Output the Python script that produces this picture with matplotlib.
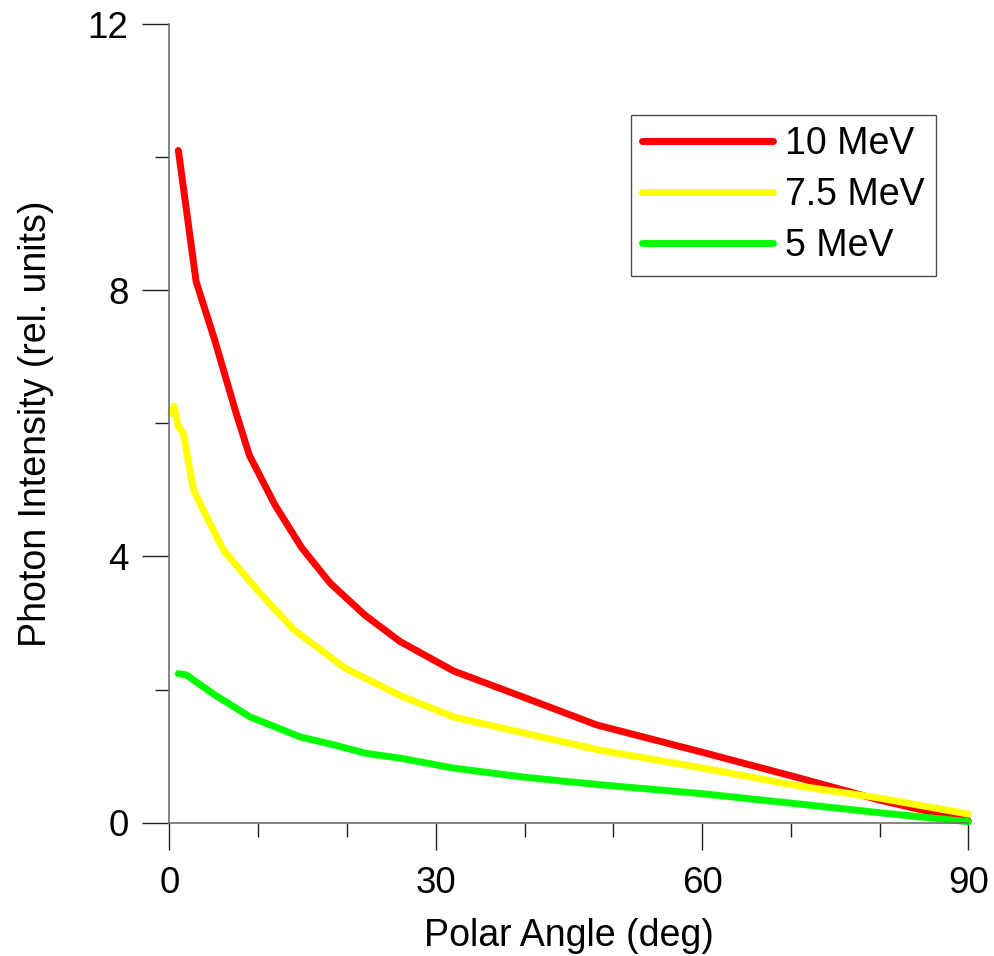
import matplotlib
matplotlib.use("Agg")
import matplotlib.pyplot as plt
from matplotlib.ticker import MultipleLocator

plt.rcParams['font.family'] = ['Liberation Sans', 'DejaVu Sans']

# Data
angle_10 = [1.0, 3.0, 5.1, 7.4, 9.0, 11.9, 14.9, 18.1, 22.0, 26.0, 32.0, 40.2, 48.1, 59.7, 71.0, 80.0, 90.0]
int_10 = [10.1, 8.13, 7.25, 6.2, 5.52, 4.77, 4.13, 3.6, 3.12, 2.72, 2.28, 1.87, 1.47, 1.07, 0.67, 0.34, 0.03]

angle_75 = [0.13, 0.5, 1.0, 1.55, 2.7, 3.6, 6.06, 7.94, 10.2, 14.0, 19.8, 26.0, 32.0, 40.2, 48.5, 59.7, 71.0, 80.0, 90.0]
int_75 = [6.15, 6.26, 5.95, 5.85, 5.0, 4.75, 4.1, 3.8, 3.45, 2.9, 2.32, 1.91, 1.59, 1.34, 1.09, 0.83, 0.55, 0.37, 0.13]

angle_5 = [1.0, 1.9, 5.1, 9.07, 14.7, 18.5, 22.2, 26.0, 32.0, 40.2, 48.5, 59.7, 71.0, 80.0, 90.0]
int_5 = [2.24, 2.22, 1.92, 1.59, 1.29, 1.17, 1.04, 0.97, 0.82, 0.68, 0.57, 0.44, 0.28, 0.15, 0.015]

series_labels = ["10 MeV", "7.5 MeV", "5 MeV"]
series_colors = ["#ff0000", "#ffff00", "#00ff00"]

x_ticks = [0, 30, 60, 90]
y_ticks = [0, 4, 8, 12]

W, H = 995, 956
fig = plt.figure(figsize=(W / 100, H / 100), dpi=100)
ax = fig.add_axes([169.5 / W, (H - 822.7) / H, (968.3 - 169.5) / W, (822.7 - 24) / H])

for xs, ys, lab, col in zip([angle_10, angle_75, angle_5], [int_10, int_75, int_5], series_labels, series_colors):
    ax.plot(xs, ys, color=col, lw=5, label=lab, solid_capstyle='round',
            solid_joinstyle='round', clip_on=False)

ax.set_xlim(0, 90)
ax.set_ylim(0, 12)
ax.set_xticks(x_ticks)
ax.set_yticks(y_ticks)
ax.xaxis.set_minor_locator(MultipleLocator(10))
ax.yaxis.set_minor_locator(MultipleLocator(2))

for s in ['top', 'right']:
    ax.spines[s].set_visible(False)
for s in ['left', 'bottom']:
    ax.spines[s].set_color('#707070')
    ax.spines[s].set_linewidth(1.2)

ax.tick_params(axis='both', which='major', direction='out', length=19.5, width=1.0,
               color='#202020', labelsize=26.5)
ax.tick_params(axis='both', which='minor', direction='out', length=10, width=1.0,
               color='#202020')
ax.tick_params(axis='x', which='major', pad=12)
ax.tick_params(axis='y', which='major', pad=10)

ax.set_xlabel("Polar Angle (deg)", fontsize=27, labelpad=12)
ax.set_ylabel("Photon Intensity (rel. units)", fontsize=27, labelpad=24)

leg = ax.legend(loc='upper left', bbox_to_anchor=(630.7 / W, 1 - 115 / H),
                bbox_transform=fig.transFigure, fontsize=27, frameon=True,
                fancybox=False, edgecolor='#202020', handlelength=3.5,
                handletextpad=0.32, borderpad=0.3, labelspacing=0.4,
                borderaxespad=0)
leg.get_frame().set_linewidth(1.0)
for line in leg.get_lines():
    line.set_linewidth(5)
    line.set_solid_capstyle('round')

fig.savefig("out.png", dpi=100)
